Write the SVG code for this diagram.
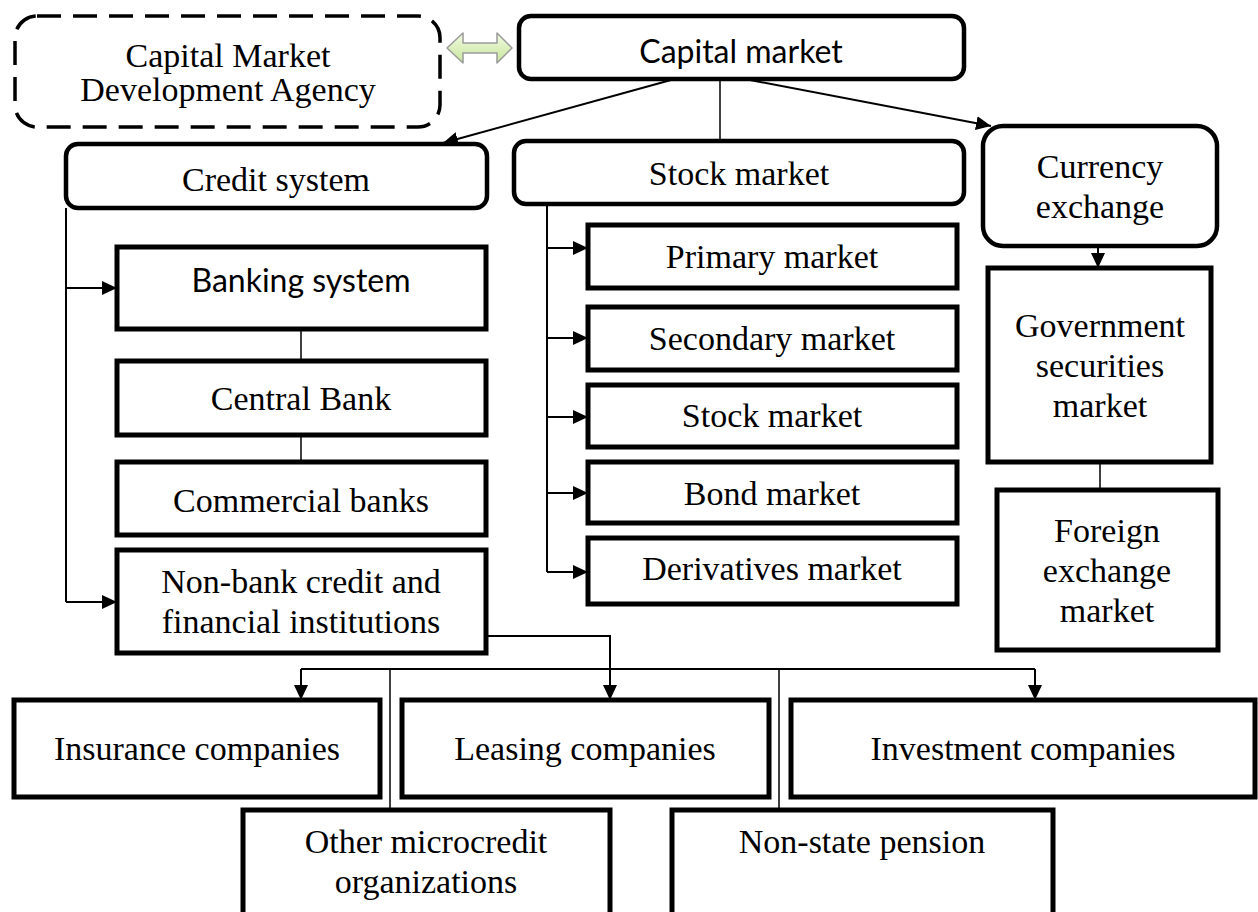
<svg xmlns="http://www.w3.org/2000/svg" width="1258" height="912" viewBox="0 0 1258 912">
  <style>
    .box { fill: #fff; stroke: #000; stroke-width: 5; }
    .rbox { fill: #fff; stroke: #000; stroke-width: 4.5; }
    .dash { fill: #fff; stroke: #000; stroke-width: 3.5; stroke-dasharray: 24 12; }
    .t { font-family: "Liberation Serif", "Times New Roman", serif; font-size: 34px; fill: #000; text-anchor: middle; }
    .s { font-family: Lato, "Liberation Sans", sans-serif; font-size: 32px; fill: #000; text-anchor: middle; }
    .ln { fill: none; stroke: #000; stroke-width: 2; }
    .thin { fill: none; stroke: #000; stroke-width: 1.5; }
  </style>
  <defs>
    <marker id="ah" markerUnits="userSpaceOnUse" markerWidth="16" markerHeight="14" refX="15" refY="7" orient="auto">
      <path d="M0,0 L15,7 L0,14 z" fill="#000"/>
    </marker>
    <linearGradient id="grn" x1="0" y1="0" x2="0" y2="1">
      <stop offset="0" stop-color="#f2fbe2"/>
      <stop offset="1" stop-color="#c6e59a"/>
    </linearGradient>
  </defs>

  <!-- connectors -->
  <g id="connectors">
    <line class="ln" x1="671" y1="80" x2="443" y2="143" marker-end="url(#ah)"/>
    <line class="thin" x1="720" y1="80" x2="720" y2="140"/>
    <line class="ln" x1="750" y1="80" x2="991" y2="126" marker-end="url(#ah)"/>

    <polyline class="ln" points="66,208 66,602"/>
    <line class="ln" x1="66" y1="288" x2="117" y2="288" marker-end="url(#ah)"/>
    <line class="ln" x1="66" y1="602" x2="117" y2="602" marker-end="url(#ah)"/>
    <line class="thin" x1="301" y1="329" x2="301" y2="361"/>
    <line class="thin" x1="301" y1="435" x2="301" y2="462"/>

    <polyline class="ln" points="547,205 547,572"/>
    <line class="ln" x1="547" y1="248" x2="588" y2="248" marker-end="url(#ah)"/>
    <line class="ln" x1="547" y1="338" x2="588" y2="338" marker-end="url(#ah)"/>
    <line class="ln" x1="547" y1="417" x2="588" y2="417" marker-end="url(#ah)"/>
    <line class="ln" x1="547" y1="493" x2="588" y2="493" marker-end="url(#ah)"/>
    <line class="ln" x1="547" y1="572" x2="588" y2="572" marker-end="url(#ah)"/>

    <line class="ln" x1="1098" y1="247" x2="1098" y2="268" marker-end="url(#ah)"/>
    <line class="thin" x1="1100" y1="462" x2="1100" y2="490"/>

    <polyline class="ln" points="486,636 610,636 610,700" marker-end="url(#ah)"/>
    <line class="ln" x1="301" y1="669" x2="1035" y2="669"/>
    <line class="ln" x1="301" y1="669" x2="301" y2="700" marker-end="url(#ah)"/>
    <line class="ln" x1="1035" y1="669" x2="1035" y2="700" marker-end="url(#ah)"/>
    <line class="thin" x1="390" y1="669" x2="390" y2="810"/>
    <line class="thin" x1="779" y1="669" x2="779" y2="810"/>

    <!-- two-way link between the agency and the capital market -->
    <polygon points="447,48 463,33 463,43 497,43 497,33 512,48 497,63 497,53 463,53 463,63"
             fill="url(#grn)" stroke="#9a9a9a" stroke-width="1.5" stroke-linejoin="round"/>
  </g>

  <g id="agency">
    <rect class="dash" x="15" y="16" width="425" height="111" rx="22"/>
    <text class="t" x="228" y="67" font-size="31">Capital Market</text>
    <text class="t" x="228" y="101" font-size="31">Development Agency</text>
  </g>

  <g id="capital-market">
    <rect class="rbox" x="519" y="16" width="445" height="63" rx="12"/>
    <text class="s" x="741" y="63">Capital market</text>
  </g>

  <g id="credit-system">
    <rect class="rbox" x="66" y="144" width="421" height="64" rx="12"/>
    <text class="t" x="276" y="191">Credit system</text>
  </g>

  <g id="stock-market-head">
    <rect class="rbox" x="514" y="141" width="450" height="63" rx="12"/>
    <text class="t" x="739" y="185" font-size="30">Stock market</text>
  </g>

  <g id="currency-exchange">
    <rect class="rbox" x="983" y="126" width="234" height="120" rx="20"/>
    <text class="t" x="1100" y="178">Currency</text>
    <text class="t" x="1100" y="218">exchange</text>
  </g>

  <g id="banking-system">
    <rect class="box" x="117" y="247" width="369" height="82"/>
    <text class="s" x="301" y="292">Banking system</text>
  </g>
  <g id="central-bank">
    <rect class="box" x="117" y="361" width="369" height="74"/>
    <text class="t" x="301" y="410">Central Bank</text>
  </g>
  <g id="commercial-banks">
    <rect class="box" x="117" y="462" width="369" height="73"/>
    <text class="t" x="301" y="512">Commercial banks</text>
  </g>
  <g id="non-bank">
    <rect class="box" x="117" y="550" width="369" height="103"/>
    <text class="t" x="301" y="593">Non-bank credit and</text>
    <text class="t" x="301" y="633">financial institutions</text>
  </g>

  <g id="primary-market">
    <rect class="box" x="588" y="225" width="369" height="63"/>
    <text class="t" x="772" y="268">Primary market</text>
  </g>
  <g id="secondary-market">
    <rect class="box" x="588" y="307" width="369" height="63"/>
    <text class="t" x="772" y="350">Secondary market</text>
  </g>
  <g id="stock-market">
    <rect class="box" x="588" y="385" width="369" height="62"/>
    <text class="t" x="772" y="427">Stock market</text>
  </g>
  <g id="bond-market">
    <rect class="box" x="588" y="462" width="369" height="61"/>
    <text class="t" x="772" y="505">Bond market</text>
  </g>
  <g id="derivatives-market">
    <rect class="box" x="588" y="538" width="369" height="66"/>
    <text class="t" x="772" y="580">Derivatives market</text>
  </g>

  <g id="government-securities">
    <rect class="box" x="988" y="268" width="223" height="194"/>
    <text class="t" x="1100" y="337">Government</text>
    <text class="t" x="1100" y="377">securities</text>
    <text class="t" x="1100" y="417">market</text>
  </g>
  <g id="foreign-exchange">
    <rect class="box" x="997" y="490" width="221" height="160"/>
    <text class="t" x="1107" y="542">Foreign</text>
    <text class="t" x="1107" y="582">exchange</text>
    <text class="t" x="1107" y="622">market</text>
  </g>

  <g id="insurance">
    <rect class="box" x="14" y="700" width="366" height="97"/>
    <text class="t" x="197" y="760">Insurance companies</text>
  </g>
  <g id="leasing">
    <rect class="box" x="402" y="700" width="367" height="97"/>
    <text class="t" x="585" y="760">Leasing companies</text>
  </g>
  <g id="investment">
    <rect class="box" x="791" y="700" width="464" height="97"/>
    <text class="t" x="1023" y="760">Investment companies</text>
  </g>
  <g id="microcredit">
    <rect class="box" x="243" y="810" width="367" height="120"/>
    <text class="t" x="426" y="853">Other microcredit</text>
    <text class="t" x="426" y="893">organizations</text>
  </g>
  <g id="pension">
    <rect class="box" x="672" y="810" width="381" height="120"/>
    <text class="t" x="862" y="853">Non-state pension</text>
  </g>
</svg>
